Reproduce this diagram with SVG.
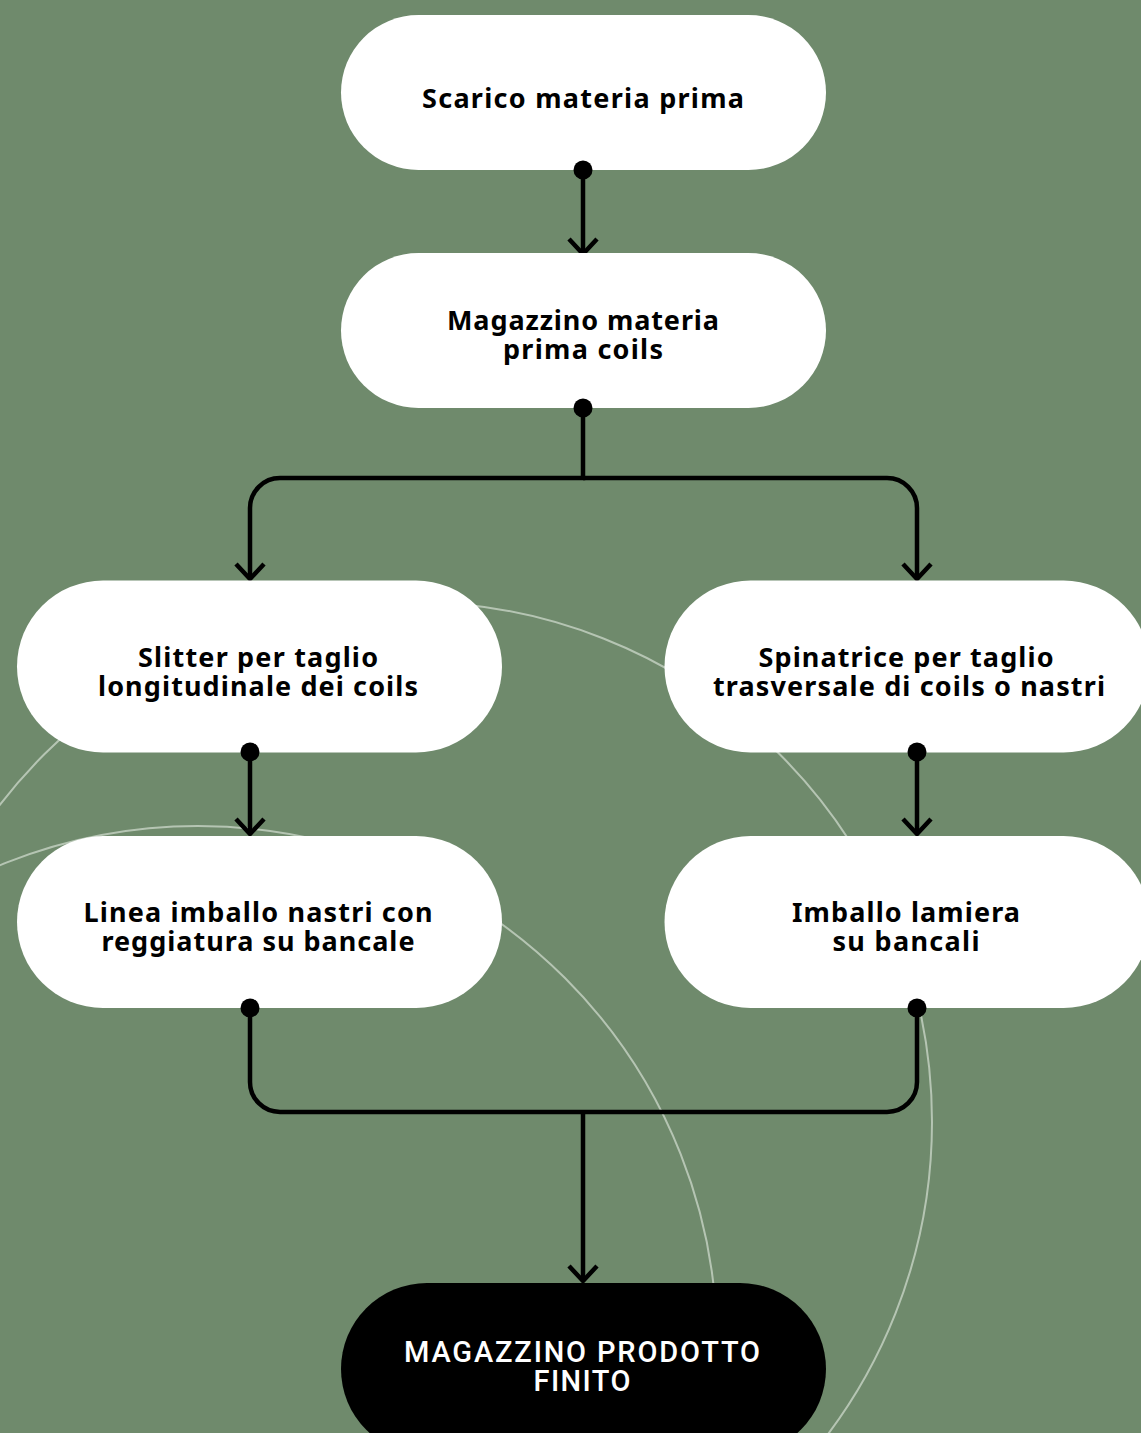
<svg xmlns="http://www.w3.org/2000/svg" width="1141" height="1433" viewBox="0 0 1141 1433">
  <defs>
    <style>
      .bg { fill: #6f8a6c; }
      .arc { fill: none; stroke: #c2cfbf; stroke-width: 2; opacity: 0.85; }
      .node { fill: #ffffff; }
      .node-dark { fill: #000000; }
      .lbl { font-family: "Noto Sans", "Liberation Sans", sans-serif; font-weight: 700; font-size: 27px; fill: #000; text-anchor: middle; }
      .lbl-dark { font-family: Roboto, "Liberation Sans", sans-serif; font-weight: 500; font-size: 29px; fill: #fff; text-anchor: middle; }
      .conn { fill: none; stroke: #000; stroke-width: 4.5; }
      .dot { fill: #000; }
    </style>
    <marker id="arrow" markerUnits="userSpaceOnUse" markerWidth="40" markerHeight="40" refX="20" refY="20" orient="auto" viewBox="0 0 40 40">
      <path d="M5,6 L20,20 L5,34" fill="none" stroke="#000" stroke-width="4.5"/>
    </marker>
  </defs>

  <rect class="bg" x="0" y="0" width="1141" height="1433"/>

  <g id="background-arcs">
    <circle class="arc" cx="412" cy="1122" r="520"/>
    <circle class="arc" cx="198" cy="1345" r="519"/>
  </g>

  <g id="connectors">
    <path class="conn" d="M583,170 V254" marker-end="url(#arrow)"/>
    <path class="conn" d="M583,408 V478 H280 A30,30 0 0 0 250,508 V579" marker-end="url(#arrow)"/>
    <path class="conn" d="M583,478 H887 A30,30 0 0 1 917,508 V579" marker-end="url(#arrow)"/>
    <path class="conn" d="M250,752 V834" marker-end="url(#arrow)"/>
    <path class="conn" d="M917,752 V834" marker-end="url(#arrow)"/>
    <path class="conn" d="M250,1008 V1082 A30,30 0 0 0 280,1112 H887 A30,30 0 0 0 917,1082 V1008"/>
    <path class="conn" d="M583,1112 V1281" marker-end="url(#arrow)"/>
  </g>

  <g id="node-scarico">
    <rect class="node" x="341" y="15" width="485" height="155" rx="77.5"/>
    <text class="lbl" x="583" y="108" textLength="322" lengthAdjust="spacing">Scarico materia prima</text>
  </g>

  <g id="node-magazzino-mp">
    <rect class="node" x="341" y="253" width="485" height="155" rx="77.5"/>
    <text class="lbl" x="583" y="330" textLength="272" lengthAdjust="spacing">Magazzino materia</text>
    <text class="lbl" x="583" y="359" textLength="160" lengthAdjust="spacing">prima coils</text>
  </g>

  <g id="node-slitter">
    <rect class="node" x="17" y="580.5" width="485" height="172" rx="86"/>
    <text class="lbl" x="258" y="667" textLength="240" lengthAdjust="spacing">Slitter per taglio</text>
    <text class="lbl" x="258" y="696" textLength="320" lengthAdjust="spacing">longitudinale dei coils</text>
  </g>

  <g id="node-spinatrice">
    <rect class="node" x="664.5" y="580.5" width="485" height="172" rx="86"/>
    <text class="lbl" x="906" y="667" textLength="295" lengthAdjust="spacing">Spinatrice per taglio</text>
    <text class="lbl" x="909" y="696" textLength="392" lengthAdjust="spacing">trasversale di coils o nastri</text>
  </g>

  <g id="node-linea-imballo">
    <rect class="node" x="17" y="836" width="485" height="172" rx="86"/>
    <text class="lbl" x="258" y="922" textLength="349" lengthAdjust="spacing">Linea imballo nastri con</text>
    <text class="lbl" x="258" y="951" textLength="313" lengthAdjust="spacing">reggiatura su bancale</text>
  </g>

  <g id="node-imballo-lamiera">
    <rect class="node" x="664.5" y="836" width="485" height="172" rx="86"/>
    <text class="lbl" x="906" y="922" textLength="228" lengthAdjust="spacing">Imballo lamiera</text>
    <text class="lbl" x="906" y="951" textLength="147" lengthAdjust="spacing">su bancali</text>
  </g>

  <g id="node-magazzino-pf">
    <rect class="node-dark" x="341" y="1283" width="485" height="172" rx="86"/>
    <text class="lbl-dark" x="582" y="1362" textLength="356" lengthAdjust="spacing">MAGAZZINO PRODOTTO</text>
    <text class="lbl-dark" x="582" y="1391" textLength="97" lengthAdjust="spacing">FINITO</text>
  </g>

  <g id="connector-dots">
    <circle class="dot" cx="583" cy="170" r="9.5"/>
    <circle class="dot" cx="583" cy="408" r="9.5"/>
    <circle class="dot" cx="250" cy="752" r="9.5"/>
    <circle class="dot" cx="917" cy="752" r="9.5"/>
    <circle class="dot" cx="250" cy="1008" r="9.5"/>
    <circle class="dot" cx="917" cy="1008" r="9.5"/>
  </g>
</svg>
